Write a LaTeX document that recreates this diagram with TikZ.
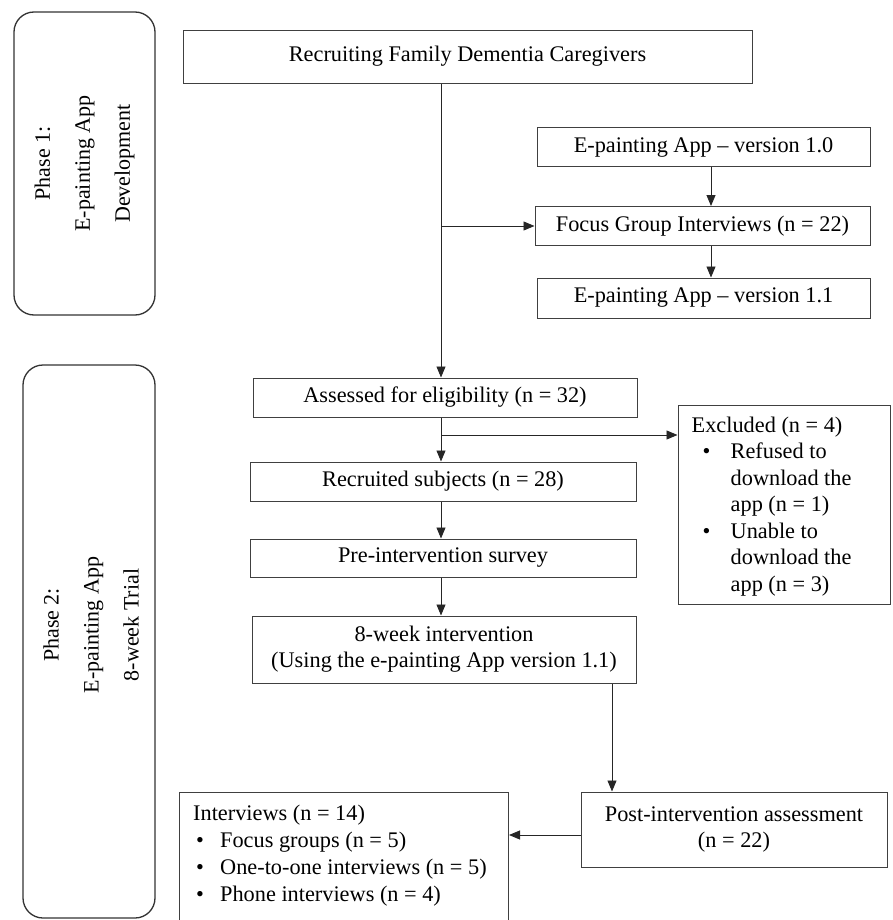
\documentclass[tikz,border=0pt]{standalone}
\usepackage{fontspec}
\setmainfont{Liberation Serif}
\usetikzlibrary{arrows.meta,calc}
\begin{document}
\begin{tikzpicture}[x=1pt,y=-1pt,
  box/.style={draw=black!75, line width=1pt, inner sep=0pt, font=\fontsize{22.3}{26}\selectfont, align=center},
  phase/.style={draw=black!80, line width=1.3pt, rounded corners=20pt, inner sep=0pt},
  phasetext/.style={font=\fontsize{22}{40}\selectfont, align=center, inner sep=0pt},
  listtext/.style={font=\fontsize{22.3}{26.5}\selectfont, align=left, inner sep=0pt, anchor=north west},
  arr/.style={draw=black!85, line width=0.9pt, -{Triangle[length=11pt,width=9pt]}}]
\useasboundingbox (0,0) rectangle (892,920);

% phase boxes
\node[phase, rotate=90, minimum width=303pt, minimum height=141pt, font=\fontsize{22}{40}\selectfont, align=center] (ph1) at (84.5,163.5) {Phase 1:\\E-painting App\\Development};
\node[phase, minimum width=132pt, minimum height=553pt] (ph2) at (89,641.5) {};
\node[phasetext, rotate=90] (ph2t) at (91,625) {Phase 2:\\E-painting App\\8-week Trial};

% main boxes
\node[box, minimum width=569pt, minimum height=53pt] (rec) at (467.5,57.5) {\raisebox{7pt}{Recruiting Family Dementia Caregivers}};
\node[box, minimum width=333pt, minimum height=39pt] (v10) at (703.5,147.5) {E-painting App -- version 1.0};
\node[box, minimum width=335pt, minimum height=39pt] (fgi) at (702.5,226) {Focus Group Interviews (n = 22)};
\node[box, minimum width=333pt, minimum height=40pt] (v11) at (703.5,298) {E-painting App -- version 1.1};
\node[box, minimum width=384pt, minimum height=39pt] (ass) at (445,397.5) {Assessed for eligibility (n = 32)};
\node[box, minimum width=386pt, minimum height=39pt] (recs) at (443,481.5) {Recruited subjects (n = 28)};
\node[box, minimum width=386pt, minimum height=38pt] (pre) at (443,558) {Pre-intervention survey};
\node[box, minimum width=384pt, minimum height=67pt] (wk8) at (444,649.5) {8-week intervention\\(Using the e-painting App version 1.1)};
\node[box, minimum width=306pt, minimum height=75pt] (post) at (734,829.5) {\raisebox{3pt}{\begin{tabular}{@{}c@{}}Post-intervention assessment\\(n = 22)\end{tabular}}};

% excluded box
\node[box, minimum width=212pt, minimum height=199pt] (exc) at (784,504.5) {};
\node[listtext] (exct) at ([xshift=14pt,yshift=-12pt]exc.north west) {Excluded (n = 4)\\
\makebox[39pt][l]{\hspace{11pt}\textbullet}Refused to\\
\hspace*{39pt}download the\\
\hspace*{39pt}app (n = 1)\\
\makebox[39pt][l]{\hspace{11pt}\textbullet}Unable to\\
\hspace*{39pt}download the\\
\hspace*{39pt}app (n = 3)};

% interviews box
\node[box, minimum width=329pt, minimum height=140pt, anchor=north west] (int) at (179,792) {};
\node[listtext, font=\fontsize{22.3}{27}\selectfont] (intt) at ([xshift=14pt,yshift=-13pt]int.north west) {Interviews (n = 14)\\
\makebox[27pt][l]{\hspace{3pt}\textbullet}Focus groups (n = 5)\\
\makebox[27pt][l]{\hspace{3pt}\textbullet}One-to-one interviews (n = 5)\\
\makebox[27pt][l]{\hspace{3pt}\textbullet}Phone interviews (n = 4)};

% connectors
\coordinate (trunk) at (441,0);
\coordinate (col) at (711,0);
\coordinate (exbr) at (441,435);
\coordinate (wcol) at (612,0);
\coordinate (prow) at (0,835);

\draw[arr] (rec.south -| trunk) -- (ass.north -| trunk);
\draw[arr] (fgi.west -| trunk) -- (fgi.west);
\draw[arr] (v10.south -| col) -- (fgi.north -| col);
\draw[arr] (fgi.south -| col) -- (v11.north -| col);
\draw[arr] (ass.south -| trunk) -- (recs.north -| trunk);
\draw[arr] (exbr) -- (exbr -| exc.west);
\draw[arr] (recs.south -| trunk) -- (pre.north -| trunk);
\draw[arr] (pre.south -| trunk) -- (wk8.north -| trunk);
\draw[arr] (wk8.south -| wcol) -- (post.north -| wcol);
\draw[arr] (post.west |- prow) -- (int.east |- prow);
\end{tikzpicture}
\end{document}
